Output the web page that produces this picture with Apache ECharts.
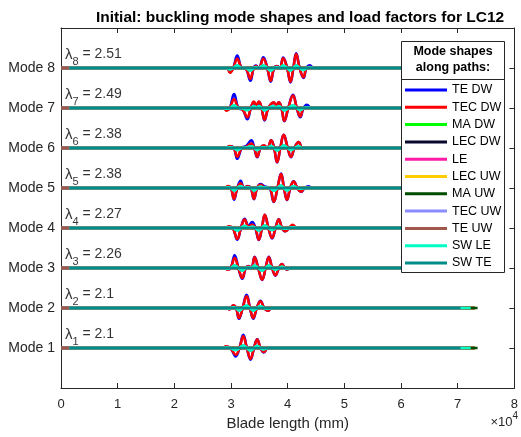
<!DOCTYPE html>
<html><head><meta charset="utf-8">
<script src="https://cdn.jsdelivr.net/npm/echarts@6/dist/echarts.min.js"></script>
<style>html,body{margin:0;padding:0;background:#fff}#c{width:521px;height:437px}</style>
</head><body><div id="c"></div>
<script>
// ---- data ----
const pathNames = ['TE DW','TEC DW','MA DW','LEC DW','LE','LEC UW','MA UW','TEC UW','TE UW','SW LE','SW TE'];
const pathColors = ['#0000ff','#ff0000','#00ff00','#08082e','#ff1aa8','#ffcc00','#004d00','#8c8cff','#a0584c','#00ffc4','#008a8a'];
const pathStart = [0,0,0,0,0,0,0,0,0,1500,1500];
const pathEnd = [73000,73000,73000,73000,73000,73000,73500,71000,71000,72300,70500];
const modeLabels = ['Mode 1','Mode 2','Mode 3','Mode 4','Mode 5','Mode 6','Mode 7','Mode 8'];
const loadFactors = ['2.1','2.1','2.26','2.27','2.38','2.38','2.49','2.51'];
const xTickLabels = ['0','1','2','3','4','5','6','7','8'];

// mode shape knots (x in mm) and displacements for each mode
const mode1X = [27500,28600,29100,29900,30820,31500,32160,32800,33450,34050,34620,35200,35790,36500,37300];
const mode1TEC = [0,0,0.04,0,-0.17,0,0.29,0,-0.27,0,0.21,0,-0.10,0,0];
const mode1TE  = [0,0,0.03,0,-0.21,0,0.33,0,-0.29,0,0.22,0,-0.11,0,0];
const mode1Minor = [0,0,0.01,0,-0.05,0,0.06,0,-0.06,0,0.05,0,-0.03,0,0];

const mode2X = [27500,29200,29700,30410,30900,31400,32050,32750,33350,33920,34550,35200,35850,36490,37200,38200];
const mode2TEC = [0,0,-0.04,0.07,0,-0.25,0,0.29,0,-0.25,0,0.17,0,-0.07,0,0];
const mode2TE  = [0,0,-0.03,0.06,0,-0.27,0,0.33,0,-0.27,0,0.18,0,-0.07,0,0];
const mode2Minor = [0,0,-0.01,0.02,0,-0.06,0,0.06,0,-0.06,0,0.04,0,-0.02,0,0];

const mode3X = [27500,28800,29360,29950,30640,31300,31990,32600,33100,33600,34150,34800,35500,36100,36670,37250,37840,38450,39010,39450,39880,40500,41600];
const mode3TEC = [0,0,-0.04,0,0.25,0,-0.25,0,0.04,0,0.27,0,-0.29,0,0.27,0,-0.18,0,0.10,0,-0.04,0,0];
const mode3TE  = [0,0,-0.03,0,0.32,0,-0.27,0,0.05,0,0.28,0,-0.30,0,0.28,0,-0.19,0,0.10,0,-0.04,0,0];
const mode3Minor = [0,0,-0.01,0,0.06,0,-0.06,0,0.01,0,0.06,0,-0.06,0,0.06,0,-0.04,0,0.03,0,-0.01,0,0];

const mode4X = [27500,29000,29600,30300,31110,31750,32400,33100,33740,34300,34910,35450,35960,36600,37250,37850,38420,39000,39590,40250,40880,41600,42300];
const mode4TEC = [0,0,0.04,0,-0.27,0,0.21,0.04,0.08,0,-0.29,0,0.33,0,-0.25,0,0.21,0,-0.08,0,0.08,0,0];
const mode4TE  = [0,0,0.03,0,-0.29,0,0.23,0.06,0.15,0,-0.30,0,0.33,0,-0.26,0,0.22,0,-0.08,0,0.06,0,0];
const mode4Minor = [0,0,0.01,0,-0.06,0,0.05,0.01,0.03,0,-0.06,0,0.06,0,-0.05,0,0.05,0,-0.02,0,0.02,0,0];

const mode5X = [27500,28800,29500,30000,30530,31100,31700,32300,32900,33500,34040,34600,35200,35900,36800,37540,38200,38830,39350,39880,40450,41050,41700,42340,43000,43680,44300];
const mode5TEC = [0,0,0.05,0,-0.27,0,0.12,0,0.04,0,-0.27,0,0.08,0.02,0,-0.34,0,0.35,0,-0.29,0,0.16,0,-0.09,0,0.01,0];
const mode5TE  = [0,0,0.03,0,-0.29,0,0.18,0,0.05,0,-0.28,0,0.10,0.04,0,-0.35,0,0.36,0,-0.30,0,0.17,0,-0.10,0,0.04,0];
const mode5Minor = [0,0,0.02,0,-0.06,0,0.04,0,0.01,0,-0.06,0,0.03,0.01,0,-0.06,0,0.06,0,-0.06,0,0.04,0,-0.02,0,0,0];

const mode6X = [27500,29000,29800,30500,31110,31900,32700,33570,34100,34620,35200,35790,36400,37080,37600,38130,38700,39300,40000,40580,41200,41930,42600,43300];
const mode6TEC = [0,0,0.05,0,-0.22,0,0.03,0.11,0,-0.22,0,0.07,0,0.19,0,-0.35,0,0.33,0,-0.22,0,0.15,0,0];
const mode6TE  = [0,0,0.04,0,-0.27,0,0.05,0.19,0,-0.23,0,0.06,0,0.19,0,-0.36,0,0.33,0,-0.23,0,0.15,0,0];
const mode6Minor = [0,0,0.02,0,-0.05,0,0.01,0.04,0,-0.05,0,0.02,0,0.05,0,-0.06,0,0.06,0,-0.05,0,0.04,0,0];

const mode7X = [27500,28700,29200,29800,30530,31300,32100,32870,33500,34040,34480,34910,35400,35910,36600,37540,37980,38420,38900,39420,40100,40940,41600,42220,42800,43390,44200];
const mode7TEC = [0,0,-0.07,0,0.22,0,-0.05,-0.23,0,0.16,0.07,0.16,0,-0.29,0,0.14,0.07,0.14,0,-0.32,0,0.31,0,-0.21,0,0.02,0];
const mode7TE  = [0,0,-0.05,0,0.35,0,-0.05,-0.28,0,0.14,0.06,0.15,0,-0.31,0,0.13,0.06,0.14,0,-0.33,0,0.33,0,-0.23,0,0.08,0];
const mode7Minor = [0,0,-0.02,0,0.06,0,-0.01,-0.05,0,0.04,0.02,0.04,0,-0.06,0,0.04,0.02,0.04,0,-0.06,0,0.06,0,-0.05,0,0.01,0];

const mode8X = [27500,29300,29800,30400,31100,31900,32600,33400,34000,34400,34900,35700,36400,37000,37600,38100,38600,39200,39900,40500,41000,41500,42100,42800,43300,43900,44600];
const mode8TEC = [0,0,-0.12,0,0.23,0,-0.02,-0.27,0,0.05,0,0.23,0,-0.32,0,0.04,0,0.24,0,-0.34,0,0.35,0,-0.23,0,0.03,0];
const mode8TE  = [0,0,-0.10,0,0.31,0,-0.02,-0.32,0,0.06,0,0.27,0,-0.34,0,0.05,0,0.26,0,-0.36,0,0.37,0,-0.25,0,0.07,0];
const mode8Minor = [0,0,-0.03,0,0.06,0,0,-0.06,0,0.02,0,0.06,0,-0.06,0,0.02,0,0.06,0,-0.06,0,0.06,0,-0.05,0,0.01,0];

// ---- build ----
const modes = [
  {x: mode1X, te: mode1TE, tec: mode1TEC, minor: mode1Minor},
  {x: mode2X, te: mode2TE, tec: mode2TEC, minor: mode2Minor},
  {x: mode3X, te: mode3TE, tec: mode3TEC, minor: mode3Minor},
  {x: mode4X, te: mode4TE, tec: mode4TEC, minor: mode4Minor},
  {x: mode5X, te: mode5TE, tec: mode5TEC, minor: mode5Minor},
  {x: mode6X, te: mode6TE, tec: mode6TEC, minor: mode6Minor},
  {x: mode7X, te: mode7TE, tec: mode7TEC, minor: mode7Minor},
  {x: mode8X, te: mode8TE, tec: mode8TEC, minor: mode8Minor}
];
const FONT = 'Liberation Sans, Arial, Helvetica, sans-serif';
const AX = '#262626';
const series = [];
pathNames.forEach((name, p) => {
  modes.forEach((md, m) => {
    const base = m + 1;
    let disp = null;
    if (p === 0) disp = md.te;
    else if (p === 1) disp = md.tec;
    else if (p === 2 || p === 7 || p === 9) disp = md.minor;
    const data = [[pathStart[p], base]];
    if (disp) md.x.forEach((xv, k) => data.push([xv, base + disp[k]]));
    data.push([pathEnd[p], base]);
    series.push({
      name: name, type: 'line', data: data, symbol: 'none', showSymbol: false,
      smooth: 0.45, color: pathColors[p], xAxisIndex: 0, yAxisIndex: 0,
      lineStyle: {color: pathColors[p], width: 2.6},
      silent: true, animation: false, z: 2
    });
  });
});
series.push({
  type: 'scatter', symbolSize: 0, silent: true, animation: false, z: 3,
  xAxisIndex: 0, yAxisIndex: 0,
  data: modeLabels.map((_, m) => [0, m + 1 + 0.34]),
  label: {
    show: true, position: 'right', distance: 4,
    formatter: (p) => '{a|λ}{b|' + (p.dataIndex + 1) + '}{c| = ' + loadFactors[p.dataIndex] + '}',
    rich: {
      a: {fontSize: 15, fontFamily: FONT, color: '#000'},
      b: {fontSize: 11, fontFamily: FONT, color: '#000', padding: [16, 0, 0, 0]},
      c: {fontSize: 14, fontFamily: FONT, color: '#000'}
    }
  }
});

const axLine = {show: true, onZero: false, lineStyle: {color: AX, width: 1}};
const axTick = {show: true, inside: true, length: 5, lineStyle: {color: AX}};
const chart = echarts.init(document.getElementById('c'), null, {renderer: 'canvas'});
chart.setOption({
  animation: false,
  backgroundColor: '#fff',
  title: {
    text: 'Initial: buckling mode shapes and load factors for LC12',
    left: 295, top: 5, textAlign: 'center',
    textStyle: {fontFamily: FONT, fontSize: 15.5, fontWeight: 'bold', color: '#000'}
  },
  grid: {left: 61, right: 4, top: 28, bottom: 49, containLabel: false},
  xAxis: [
    {type: 'value', position: 'bottom', min: 0, max: 80000, interval: 10000,
     axisLine: axLine, axisTick: axTick,
     axisLabel: {color: AX, fontFamily: FONT, fontSize: 13, margin: 10,
       formatter: (v) => xTickLabels[Math.round(v / 10000)]},
     splitLine: {show: false},
     name: 'Blade length (mm)', nameLocation: 'middle', nameGap: 28,
     nameTextStyle: {color: AX, fontFamily: FONT, fontSize: 15}},
    {type: 'value', position: 'top', min: 0, max: 80000, interval: 10000,
     axisLine: axLine, axisTick: axTick,
     axisLabel: {show: false}, splitLine: {show: false}}
  ],
  yAxis: [
    {type: 'value', position: 'left', min: 0, max: 9, interval: 1,
     axisLine: axLine, axisTick: axTick,
     axisLabel: {color: AX, fontFamily: FONT, fontSize: 14, margin: 6,
       formatter: (v) => (v >= 1 && v <= 8) ? modeLabels[v - 1] : ''},
     splitLine: {show: false}},
    {type: 'value', position: 'right', min: 0, max: 9, interval: 1,
     axisLine: axLine, axisTick: axTick,
     axisLabel: {show: false}, splitLine: {show: false}}
  ],
  legend: {
    data: pathNames, orient: 'vertical', left: 405, top: 83, padding: 0,
    itemWidth: 42, itemHeight: 3, itemGap: 3.3, icon: 'rect',
    selectedMode: false, z: 10,
    textStyle: {fontFamily: FONT, fontSize: 12.5, color: '#000', lineHeight: 14}
  },
  graphic: [
    {type: 'rect', z: 8, shape: {x: 401.5, y: 41.5, width: 103, height: 231},
     style: {fill: '#fff', stroke: AX, lineWidth: 1}},
    {type: 'line', z: 9, shape: {x1: 401.5, y1: 79.5, x2: 504.5, y2: 79.5},
     style: {stroke: AX, lineWidth: 1}},
    {type: 'text', z: 9, x: 453, y: 52,
     style: {text: 'Mode shapes', font: 'bold 12.5px ' + FONT, fill: '#000', align: 'center', verticalAlign: 'middle'}},
    {type: 'text', z: 9, x: 453, y: 68,
     style: {text: 'along paths:', font: 'bold 12.5px ' + FONT, fill: '#000', align: 'center', verticalAlign: 'middle'}},
    {type: 'text', z: 9, right: 3, top: 411,
     style: {text: '{m|×10}{s|4}', fill: AX,
       rich: {m: {fontSize: 13, fontFamily: FONT, fill: AX, padding: [6, 0, 0, 0]},
              s: {fontSize: 10, fontFamily: FONT, fill: AX, padding: [0, 0, 6, 0]}}}}
  ],
  series: series
});
</script></body></html>
